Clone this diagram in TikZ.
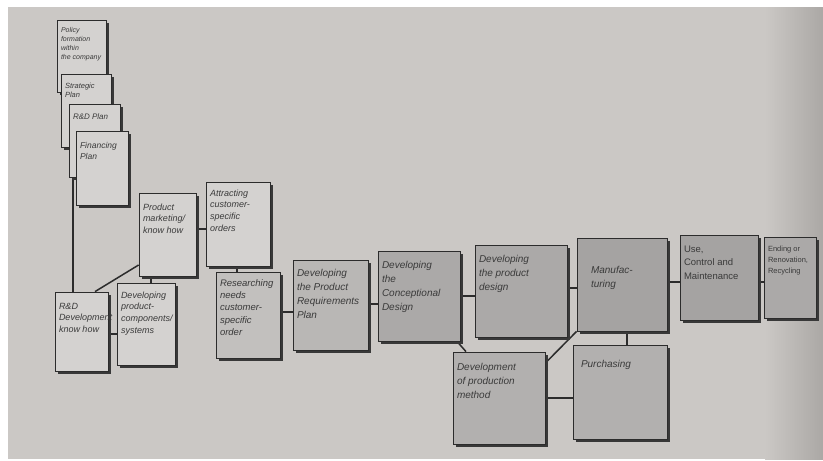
\documentclass[tikz,border=0pt]{standalone}
\usepackage{fontspec}
\setmainfont{Liberation Sans}
\usetikzlibrary{shadows}

\definecolor{paper}{HTML}{CBC8C5}
\definecolor{paperdark}{HTML}{ABA8A5}
\definecolor{inkline}{HTML}{2C2C2C}
\definecolor{inktext}{HTML}{3A3A3A}
\definecolor{cardA}{HTML}{D4D2D0}
\definecolor{cardB}{HTML}{C2C0BE}
\definecolor{cardC}{HTML}{B9B7B5}
\definecolor{cardD}{HTML}{ABA9A8}
\definecolor{cardE}{HTML}{A5A3A2}
\definecolor{cardF}{HTML}{B2B0AF}

\pgfdeclarelayer{sheet}
\pgfdeclarelayer{links}
\pgfsetlayers{sheet,links,main}

% card: #1 name, #2-#5 corners (x1,y1,x2,y2), #6 fill, #7 font, #8 first-line strut, #9 text
\newcommand\cardnode[9]{%
  \node[card, fill=#6, minimum width={#4-#2}, minimum height={#5-#3}]
    (#1) at ({(#2+#4)/2},{(#3+#5)/2})
    {\parbox[t][\dimexpr#5pt-#3pt-8pt\relax][t]{\dimexpr#4pt-#2pt-8pt\relax}%
      {#7\raggedright\rule{0pt}{#8pt}#9}};}

\newcommand\smallit[1]{\fontsize{#1}{1.3\dimexpr#1pt\relax}\selectfont\itshape}
\newcommand\mainit{\fontsize{10}{14}\selectfont\itshape}
\newcommand\mainup{\fontsize{9.5}{13.5}\selectfont}

\begin{document}
\begin{tikzpicture}[x=1pt,y=-1pt,
  card/.style={draw=inkline, line width=0.8pt, inner sep=4pt, text=inktext,
    anchor=center,
    drop shadow={shadow xshift=2.6pt, shadow yshift=-2.6pt, fill=black!78, opacity=1}},
  link/.style={draw=inkline, line width=1.5pt}]

\useasboundingbox (0,0) rectangle (823,461);

\begin{pgfonlayer}{sheet}
  \fill[white] (0,0) rectangle (823,461);
  \fill[paper] (8,7) rectangle (823,459);
  \shade[left color=paper, right color=paperdark] (765,7) rectangle (823,459);
\end{pgfonlayer}

% stacked planning cards
\cardnode{policy}{57}{20}{106}{92}{cardA}{\smallit{7}}{8}{Policy\\formation\\within\\the company}
\cardnode{strategic}{61}{74}{111}{147}{cardA}{\smallit{7.5}}{10}{Strategic\\Plan}
\cardnode{rdplan}{69}{104}{120}{177}{cardA}{\smallit{8}}{11}{R\&D Plan}
\cardnode{financing}{76}{131}{128}{205}{cardA}{\smallit{8.5}}{13}{Financing\\Plan}

% left group
\cardnode{prodmkt}{139}{193}{196}{276}{cardA}{\smallit{9}}{13}{Product\\marketing/\\know how}
\cardnode{attract}{206}{182}{270}{266}{cardA}{\smallit{9}}{10}{Attracting\\customer-\\specific\\orders}
\cardnode{rdknow}{55}{292}{108}{371}{cardA}{\smallit{9}}{13}{R\&D\\Development\\know how}
\cardnode{devcomp}{117}{283}{175}{365}{cardA}{\smallit{9}}{11}{Developing\\product-\\components/\\systems}
\cardnode{research}{216}{272}{280}{358}{cardB}{\smallit{9.5}}{10}{Researching\\needs\\customer-\\specific\\order}

% main chain
\cardnode{reqplan}{293}{260}{368}{350}{cardC}{\mainit}{12}{Developing\\the Product\\Requirements\\Plan}
\cardnode{concept}{378}{251}{460}{341}{cardD}{\mainit}{13}{Developing\\the\\Conceptional\\Design}
\cardnode{design}{475}{245}{567}{337}{cardD}{\mainit}{13}{Developing\\the product\\design}
\cardnode{manuf}{577}{238}{667}{331}{cardE}{\mainit}{31}{\hspace*{10pt}Manufac-\\\hspace*{10pt}turing}
\cardnode{use}{680}{235}{758}{320}{cardE}{\mainup}{13}{Use,\\Control and\\Maintenance}
\cardnode{ending}{764}{237}{816}{318}{cardD}{\fontsize{7.5}{11}\selectfont}{10}{Ending or\\Renovation,\\Recycling}

% production branch
\cardnode{devprod}{453}{352}{545}{444}{cardF}{\mainit}{14}{Development\\of production\\method}
\cardnode{purch}{573}{345}{667}{439}{cardF}{\mainit}{18}{\hspace*{4pt}Purchasing}

\begin{pgfonlayer}{links}
  % planning stack down to R&D know-how
  \draw[link] (73,0 |- rdplan.south) -- (73,0 |- rdknow.north);
  \draw[link] (prodmkt.west |- 0,265) -- (95,0 |- rdknow.north);
  \draw[link] (151,0 |- prodmkt.south) -- (151,0 |- devcomp.north);
  \draw[link] (prodmkt.east |- 0,229) -- (attract.west |- 0,229);
  \draw[link] (237,0 |- attract.south) -- (237,0 |- research.north);
  \draw[link] (rdknow.east |- 0,334) -- (devcomp.west |- 0,334);
  \draw[link] (research.east |- 0,312) -- (reqplan.west |- 0,312);
  \draw[link] (reqplan.east |- 0,304) -- (concept.west |- 0,304);
  \draw[link] (concept.east |- 0,296) -- (design.west |- 0,296);
  \draw[link] (design.east |- 0,288) -- (manuf.west |- 0,288);
  \draw[link] (manuf.east |- 0,282) -- (use.west |- 0,282);
  \draw[link] (use.east |- 0,282) -- (ending.west |- 0,282);
  \draw[link] (457,0 |- concept.south) -- (466,0 |- devprod.north);
  \draw[link] (manuf.south west) -- (devprod.east |- 0,363);
  \draw[link] (627,0 |- manuf.south) -- (627,0 |- purch.north);
  \draw[link] (devprod.east |- 0,398) -- (purch.west |- 0,398);
\end{pgfonlayer}
\end{tikzpicture}
\end{document}
